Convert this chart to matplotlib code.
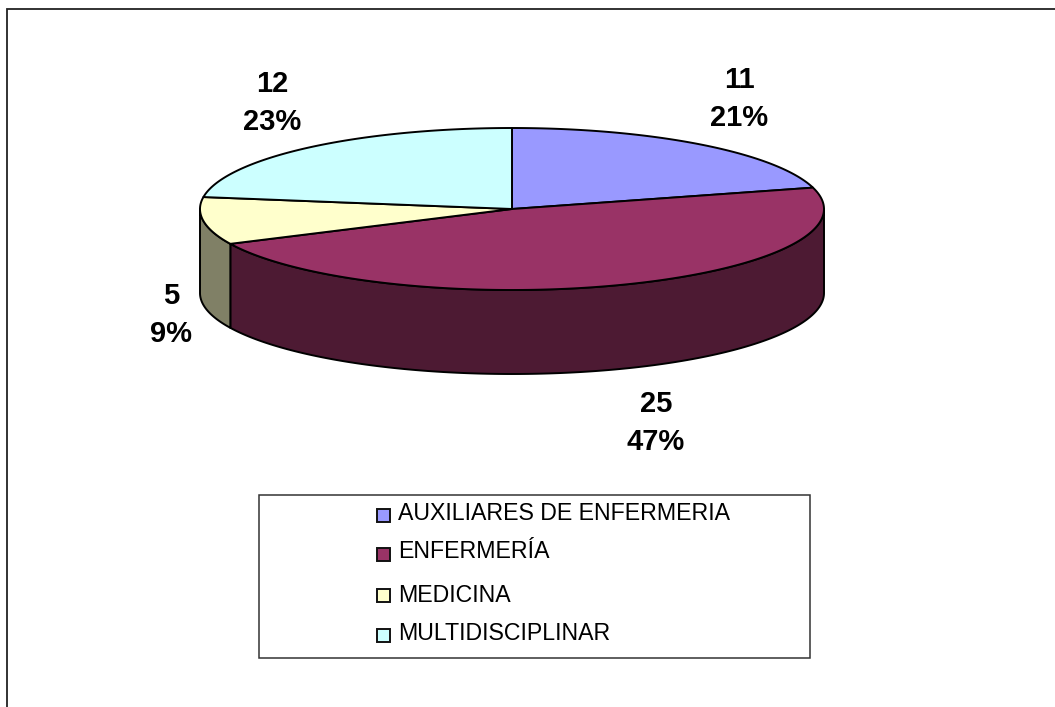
import numpy as np
import matplotlib
matplotlib.use('Agg')
import matplotlib.pyplot as plt
from matplotlib.patches import Polygon, Rectangle

'''3D pie chart drawn by hand, matplotlib has no extruded pie'''
categories = ['AUXILIARES DE ENFERMERIA', 'ENFERMERÍA', 'MEDICINA', 'MULTIDISCIPLINAR']
values = [11, 25, 5, 12]
percents = ['21%', '47%', '9%', '23%']
top_colors = ['#9999FF', '#993366', '#FFFFCC', '#CCFFFF']
side_colors = ['#4D4D80', '#4D1A33', '#808066', '#668080']

# pixel geometry of the pie
cx, cy = 512, 209
rx, ry = 312, 81
depth = 84
label_pos = [(739, 99), (656, 423), (171, 315), (272, 103)]

plt.rcParams['font.family'] = ['Liberation Sans', 'DejaVu Sans']
fig = plt.figure(figsize=(10.55, 7.07), dpi=100)
ax = fig.add_axes([0, 0, 1, 1])
ax.set_xlim(0, 1055)
ax.set_ylim(707, 0)
ax.axis('off')

# the outer frame runs off the right and bottom of the image
ax.add_patch(Rectangle((6.5, 8.5), 1100, 750, fc='white', ec='#222222', lw=1.3))


def rim(a0, a1):
    t = np.linspace(a0, a1, 200)
    return cx + rx * np.sin(t), cy - ry * np.cos(t)


edges = np.cumsum([0] + values) / sum(values) * 2 * np.pi

# sides first, only the front half of the rim is visible
for i in range(len(values)):
    a0 = max(edges[i], np.pi / 2)
    a1 = min(edges[i + 1], 3 * np.pi / 2)
    if a1 <= a0:
        continue
    x, y = rim(a0, a1)
    pts = np.r_[np.c_[x, y], np.c_[x[::-1], y[::-1] + depth]]
    ax.add_patch(Polygon(pts, fc=side_colors[i], ec='black', lw=1.4, joinstyle='round'))

for i in range(len(values)):
    x, y = rim(edges[i], edges[i + 1])
    pts = np.r_[[[cx, cy]], np.c_[x, y]]
    ax.add_patch(Polygon(pts, fc=top_colors[i], ec='black', lw=1.4, joinstyle='round'))

for i in range(len(values)):
    ax.text(label_pos[i][0], label_pos[i][1], str(values[i]) + '\n' + percents[i],
            ha='center', va='center', fontsize=21, fontweight='bold', linespacing=1.45)

# legend box
ax.add_patch(Rectangle((258.5, 494.5), 551, 163, fc='white', ec='#333333', lw=1.1))
leg_y = [515, 554, 595, 635]
text_y = [513, 552, 595, 633]
for i in range(len(categories)):
    ax.add_patch(Rectangle((376.5, leg_y[i] - 6.5), 13, 13, fc=top_colors[i], ec='#111111', lw=1.4))
    ax.text(398, text_y[i], categories[i], ha='left', va='center', fontsize=16.7)

plt.savefig('out.png', dpi=100)
